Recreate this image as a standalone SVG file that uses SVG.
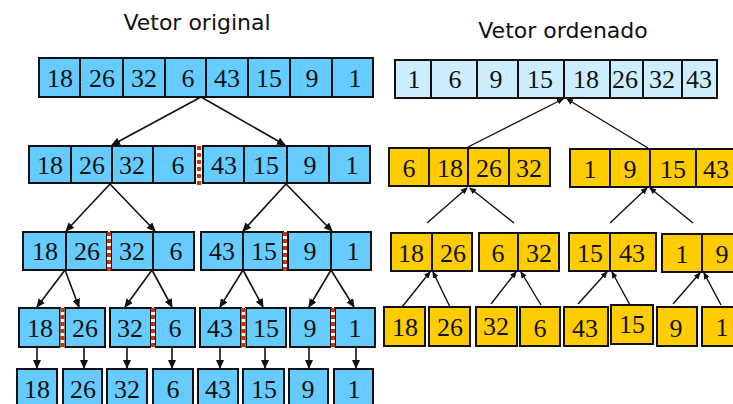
<svg xmlns="http://www.w3.org/2000/svg" width="733" height="404" viewBox="0 0 733 404">
  <style>
    .title { font-family: "DejaVu Sans", "Liberation Sans", sans-serif; font-size: 22px; fill: #111; text-anchor: middle; }
    .n { font-family: "Liberation Serif", "Times New Roman", serif; font-size: 26px; fill: #111; text-anchor: middle; }
    .blue rect { fill: #66CCFF; stroke: #111; stroke-width: 2; }
    .pale rect { fill: #CCEEFF; stroke: #111; stroke-width: 2; }
    .gold rect { fill: #FFCC00; stroke: #111; stroke-width: 2; }
    .arrow { stroke: #111; stroke-width: 1.6; fill: none; marker-end: url(#head); }
    .merge { stroke: #111; stroke-width: 1.4; fill: none; marker-end: url(#head-sm); }
    .split-bg { stroke: #fff; stroke-width: 4; }
    .split { stroke: #CC3300; stroke-width: 4; stroke-dasharray: 4 3; }
  </style>
  <defs>
    <marker id="head" markerUnits="userSpaceOnUse" markerWidth="9" markerHeight="8" refX="8" refY="4" orient="auto">
      <path d="M0,0 L9,4 L0,8 z" fill="#111"/>
    </marker>
    <marker id="head-sm" markerUnits="userSpaceOnUse" markerWidth="7" markerHeight="6" refX="6" refY="3" orient="auto">
      <path d="M0,0 L7,3 L0,6 z" fill="#111"/>
    </marker>
  </defs>

  <rect width="733" height="404" fill="#fff"/>

  <text class="title" x="197" y="30">Vetor original</text>
  <text class="title" x="563" y="38">Vetor ordenado</text>

  <!-- connectors -->
  <g id="connectors">
    <!-- divide: level 1 -> level 2 -->
    <line class="arrow" x1="201" y1="97" x2="112" y2="145"/>
    <line class="arrow" x1="201" y1="97" x2="285" y2="145"/>
    <!-- divide: level 2 -> level 3 -->
    <line class="arrow" x1="110" y1="184" x2="66" y2="231"/>
    <line class="arrow" x1="110" y1="184" x2="155" y2="231"/>
    <line class="arrow" x1="286" y1="184" x2="243" y2="231"/>
    <line class="arrow" x1="286" y1="184" x2="332" y2="231"/>
    <!-- divide: level 3 -> level 4 -->
    <line class="arrow" x1="65" y1="270" x2="37" y2="307"/>
    <line class="arrow" x1="65" y1="270" x2="79" y2="307"/>
    <line class="arrow" x1="152" y1="270" x2="125" y2="307"/>
    <line class="arrow" x1="152" y1="270" x2="172" y2="307"/>
    <line class="arrow" x1="243" y1="270" x2="220" y2="307"/>
    <line class="arrow" x1="243" y1="270" x2="263" y2="307"/>
    <line class="arrow" x1="331" y1="270" x2="309" y2="307"/>
    <line class="arrow" x1="331" y1="270" x2="354" y2="307"/>
    <!-- level 4 -> single elements -->
    <line class="arrow" x1="37" y1="347" x2="37" y2="368"/>
    <line class="arrow" x1="84" y1="347" x2="84" y2="368"/>
    <line class="arrow" x1="127" y1="347" x2="127" y2="368"/>
    <line class="arrow" x1="172" y1="347" x2="172" y2="368"/>
    <line class="arrow" x1="220" y1="347" x2="220" y2="368"/>
    <line class="arrow" x1="265" y1="347" x2="265" y2="368"/>
    <line class="arrow" x1="309" y1="347" x2="309" y2="368"/>
    <line class="arrow" x1="356" y1="347" x2="356" y2="368"/>
    <!-- merge: pairs -> level 3 -->
    <line class="merge" x1="402" y1="307" x2="430" y2="272"/>
    <line class="merge" x1="450" y1="307" x2="433" y2="272"/>
    <line class="merge" x1="491" y1="304" x2="516" y2="272"/>
    <line class="merge" x1="541" y1="305" x2="521" y2="272"/>
    <line class="merge" x1="578" y1="304" x2="607" y2="272"/>
    <line class="merge" x1="630" y1="305" x2="612" y2="272"/>
    <line class="merge" x1="673" y1="304" x2="700" y2="273"/>
    <line class="merge" x1="721" y1="305" x2="704" y2="273"/>
    <!-- merge: level 3 -> level 2 -->
    <line class="merge" x1="427" y1="223" x2="467" y2="188"/>
    <line class="merge" x1="514" y1="223" x2="470" y2="188"/>
    <line class="merge" x1="610" y1="223" x2="647" y2="188"/>
    <line class="merge" x1="693" y1="223" x2="650" y2="188"/>
    <!-- merge: level 2 -> sorted vector -->
    <line class="merge" x1="468" y1="147" x2="563" y2="99"/>
    <line class="merge" x1="648" y1="148" x2="567" y2="99"/>
  </g>

  <!-- original vector -->
  <g id="orig" class="blue">
    <rect x="39" y="58" width="41" height="39"/><rect x="80" y="58" width="43" height="39"/>
    <rect x="123" y="58" width="42" height="39"/><rect x="165" y="58" width="41" height="39"/>
    <rect x="206" y="58" width="42" height="39"/><rect x="248" y="58" width="42" height="39"/>
    <rect x="290" y="58" width="42" height="39"/><rect x="332" y="58" width="41" height="39"/>
    <text class="n" x="60" y="87">18</text><text class="n" x="102" y="87">26</text>
    <text class="n" x="144" y="87">32</text><text class="n" x="188" y="87">6</text>
    <text class="n" x="227" y="87">43</text><text class="n" x="269" y="87">15</text>
    <text class="n" x="312" y="87">9</text><text class="n" x="355" y="87">1</text>
  </g>

  <!-- sorted vector -->
  <g id="sorted" class="pale">
    <rect x="395" y="60" width="36" height="38"/><rect x="431" y="60" width="46" height="38"/>
    <rect x="477" y="60" width="41" height="38"/><rect x="518" y="60" width="46" height="38"/>
    <rect x="564" y="60" width="46" height="38"/><rect x="610" y="60" width="33" height="38"/>
    <rect x="643" y="60" width="39" height="38"/><rect x="682" y="60" width="35" height="38"/>
    <text class="n" x="414" y="88">1</text><text class="n" x="455" y="88">6</text>
    <text class="n" x="496" y="88">9</text><text class="n" x="540" y="88">15</text>
    <text class="n" x="586" y="88">18</text><text class="n" x="625" y="88">26</text>
    <text class="n" x="662" y="88">32</text><text class="n" x="699" y="88">43</text>
  </g>

  <!-- level 2, divide -->
  <g id="d2a" class="blue">
    <rect x="29" y="146" width="42" height="37"/><rect x="71" y="146" width="41" height="37"/>
    <rect x="112" y="146" width="41" height="37"/><rect x="153" y="146" width="42" height="37"/>
    <text class="n" x="50" y="174">18</text><text class="n" x="92" y="174">26</text>
    <text class="n" x="132" y="174">32</text><text class="n" x="178" y="174">6</text>
  </g>
  <g id="d2b" class="blue">
    <rect x="203" y="146" width="41" height="37"/><rect x="244" y="146" width="43" height="37"/>
    <rect x="287" y="146" width="42" height="37"/><rect x="329" y="146" width="41" height="37"/>
    <text class="n" x="224" y="174">43</text><text class="n" x="266" y="174">15</text>
    <text class="n" x="310" y="174">9</text><text class="n" x="352" y="174">1</text>
  </g>

  <!-- level 3, divide -->
  <g id="d3a" class="blue">
    <rect x="23" y="232" width="43" height="38"/><rect x="66" y="232" width="41" height="38"/>
    <text class="n" x="45" y="260">18</text><text class="n" x="87" y="260">26</text>
  </g>
  <g id="d3b" class="blue">
    <rect x="111" y="232" width="42" height="38"/><rect x="153" y="232" width="41" height="38"/>
    <text class="n" x="132" y="260">32</text><text class="n" x="176" y="260">6</text>
  </g>
  <g id="d3c" class="blue">
    <rect x="201" y="232" width="42" height="38"/><rect x="243" y="232" width="40" height="38"/>
    <text class="n" x="222" y="260">43</text><text class="n" x="264" y="260">15</text>
  </g>
  <g id="d3d" class="blue">
    <rect x="288" y="232" width="43" height="38"/><rect x="331" y="232" width="40" height="38"/>
    <text class="n" x="310" y="260">9</text><text class="n" x="353" y="260">1</text>
  </g>

  <!-- level 4, divide -->
  <g id="d4-18" class="blue"><rect x="19" y="308" width="41" height="39"/><text class="n" x="40" y="337">18</text></g>
  <g id="d4-26" class="blue"><rect x="65" y="308" width="40" height="39"/><text class="n" x="85" y="337">26</text></g>
  <g id="d4-32" class="blue"><rect x="110" y="308" width="41" height="39"/><text class="n" x="130" y="337">32</text></g>
  <g id="d4-6" class="blue"><rect x="155" y="308" width="40" height="39"/><text class="n" x="175" y="337">6</text></g>
  <g id="d4-43" class="blue"><rect x="200" y="308" width="41" height="39"/><text class="n" x="220" y="337">43</text></g>
  <g id="d4-15" class="blue"><rect x="246" y="308" width="40" height="39"/><text class="n" x="266" y="337">15</text></g>
  <g id="d4-9" class="blue"><rect x="290" y="308" width="41" height="39"/><text class="n" x="310" y="337">9</text></g>
  <g id="d4-1" class="blue"><rect x="335" y="308" width="40" height="39"/><text class="n" x="355" y="337">1</text></g>

  <!-- single elements -->
  <g id="s-18" class="blue"><rect x="17" y="369" width="40" height="42"/><text class="n" x="37" y="398">18</text></g>
  <g id="s-26" class="blue"><rect x="63" y="369" width="39" height="42"/><text class="n" x="83" y="398">26</text></g>
  <g id="s-32" class="blue"><rect x="107" y="369" width="40" height="42"/><text class="n" x="127" y="398">32</text></g>
  <g id="s-6" class="blue"><rect x="153" y="369" width="40" height="42"/><text class="n" x="173" y="398">6</text></g>
  <g id="s-43" class="blue"><rect x="198" y="369" width="40" height="42"/><text class="n" x="218" y="398">43</text></g>
  <g id="s-15" class="blue"><rect x="243" y="369" width="41" height="42"/><text class="n" x="264" y="398">15</text></g>
  <g id="s-9" class="blue"><rect x="289" y="369" width="39" height="42"/><text class="n" x="308" y="398">9</text></g>
  <g id="s-1" class="blue"><rect x="334" y="369" width="39" height="42"/><text class="n" x="354" y="398">1</text></g>

  <!-- split marks -->
  <g id="splits">
    <line class="split" x1="199" y1="146" x2="199" y2="188"/>
    <line class="split-bg" x1="109" y1="232" x2="109" y2="271"/>
    <line class="split" x1="109" y1="232" x2="109" y2="271"/>
    <line class="split-bg" x1="285" y1="232" x2="285" y2="271"/>
    <line class="split" x1="285" y1="232" x2="285" y2="271"/>
    <line class="split-bg" x1="62.5" y1="308" x2="62.5" y2="349"/>
    <line class="split" x1="62.5" y1="308" x2="62.5" y2="349"/>
    <line class="split-bg" x1="153" y1="308" x2="153" y2="349"/>
    <line class="split" x1="153" y1="308" x2="153" y2="349"/>
    <line class="split-bg" x1="243.5" y1="308" x2="243.5" y2="349"/>
    <line class="split" x1="243.5" y1="308" x2="243.5" y2="349"/>
    <line class="split-bg" x1="333" y1="308" x2="333" y2="349"/>
    <line class="split" x1="333" y1="308" x2="333" y2="349"/>
  </g>

  <!-- merge, level 2 -->
  <g id="m2a" class="gold">
    <rect x="389" y="148" width="40" height="38"/><rect x="429" y="148" width="39" height="38"/>
    <rect x="468" y="148" width="41" height="38"/><rect x="509" y="148" width="41" height="38"/>
    <text class="n" x="409" y="177">6</text><text class="n" x="450" y="177">18</text>
    <text class="n" x="489" y="177">26</text><text class="n" x="529" y="177">32</text>
  </g>
  <g id="m2b" class="gold">
    <rect x="570" y="149" width="40" height="38"/><rect x="610" y="149" width="40" height="38"/>
    <rect x="650" y="149" width="46" height="38"/><rect x="696" y="149" width="41" height="38"/>
    <text class="n" x="590" y="178">1</text><text class="n" x="630" y="178">9</text>
    <text class="n" x="673" y="178">15</text><text class="n" x="716" y="178">43</text>
  </g>

  <!-- merge, level 3 -->
  <g id="m3a" class="gold">
    <rect x="391" y="233" width="41" height="38"/><rect x="432" y="233" width="40" height="38"/>
    <text class="n" x="411" y="262">18</text><text class="n" x="453" y="262">26</text>
  </g>
  <g id="m3b" class="gold">
    <rect x="479" y="233" width="39" height="38"/><rect x="518" y="233" width="41" height="38"/>
    <text class="n" x="498" y="262">6</text><text class="n" x="539" y="262">32</text>
  </g>
  <g id="m3c" class="gold">
    <rect x="569" y="233" width="41" height="38"/><rect x="610" y="233" width="46" height="38"/>
    <text class="n" x="590" y="262">15</text><text class="n" x="632" y="262">43</text>
  </g>
  <g id="m3d" class="gold">
    <rect x="662" y="234" width="40" height="38"/><rect x="702" y="234" width="40" height="38"/>
    <text class="n" x="682" y="263">1</text><text class="n" x="722" y="263">9</text>
  </g>

  <!-- merge, single elements -->
  <g id="m4-18" class="gold"><rect x="384" y="307" width="41" height="39"/><text class="n" x="405" y="336">18</text></g>
  <g id="m4-26" class="gold"><rect x="429" y="307" width="41" height="39"/><text class="n" x="450" y="336">26</text></g>
  <g id="m4-32" class="gold"><rect x="476" y="307" width="41" height="39"/><text class="n" x="496" y="335">32</text></g>
  <g id="m4-6" class="gold"><rect x="520" y="307" width="40" height="39"/><text class="n" x="540" y="337">6</text></g>
  <g id="m4-43" class="gold"><rect x="564" y="307" width="44" height="39"/><text class="n" x="585" y="337">43</text></g>
  <g id="m4-15" class="gold"><rect x="611" y="305" width="42" height="39"/><text class="n" x="632" y="333">15</text></g>
  <g id="m4-9" class="gold"><rect x="657" y="307" width="40" height="39"/><text class="n" x="676" y="337">9</text></g>
  <g id="m4-1" class="gold"><rect x="702" y="307" width="40" height="39"/><text class="n" x="722" y="336">1</text></g>
</svg>
